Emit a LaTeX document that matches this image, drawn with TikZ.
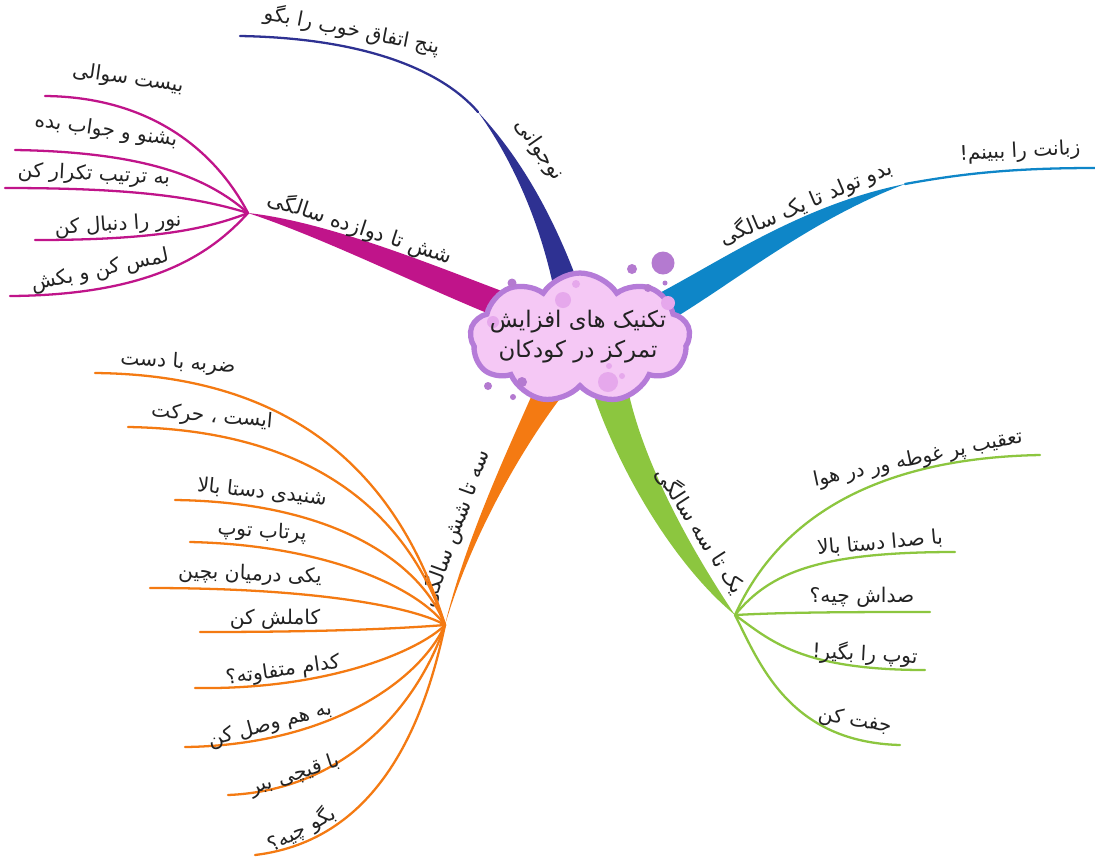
\documentclass[tikz,border=0pt]{standalone}
\usepackage{fontspec}
\usetikzlibrary{shapes.symbols}
\TeXXeTstate=1
\newfontfamily\fa[Script=Arabic]{DejaVu Sans}
\newcommand{\fat}[1]{\beginR #1\endR}
\definecolor{cnavy}{HTML}{2E3192}
\definecolor{cmag}{HTML}{C0148A}
\definecolor{cblue}{HTML}{0E86C8}
\definecolor{cgreen}{HTML}{8CC63F}
\definecolor{corange}{HTML}{F47A12}
\definecolor{cloudf}{HTML}{F5C8F5}
\definecolor{cloudb}{HTML}{B57BD8}
\definecolor{bub}{HTML}{B47AD0}
\definecolor{bubin}{HTML}{E6A8EC}
\definecolor{txt}{HTML}{222222}
\begin{document}
\begin{tikzpicture}[x=0.02cm,y=-0.02cm,
  leaf/.style={font=\fa\fontsize{11.5}{13}\selectfont, text=txt, inner sep=1pt},
  mainlbl/.style={font=\fa\fontsize{12}{14}\selectfont, text=txt, inner sep=1pt},
  twig/.style={line width=1.3pt, line cap=round}]
\useasboundingbox (0,0) rectangle (1095,860);
\fill[white] (0,0) rectangle (1095,860);

% ---------- key coordinates ----------
\coordinate (jn) at (478,112);
\coordinate (jm) at (248,213);
\coordinate (jb) at (905,184);
\coordinate (jg) at (735,615);
\coordinate (jo) at (445,625);

% ---------- thick branches ----------
\fill[cnavy] (556,300) .. controls (545,240) and (520,170) .. (jn)
  .. controls (528,165) and (562,235) .. (584,300) -- cycle;
\fill[cmag] (515,296) .. controls (440,268) and (330,222) .. (jm)
  .. controls (330,240) and (440,296) .. (515,324) -- cycle;
\fill[cblue] (650,298) .. controls (720,262) and (800,205) .. (jb)
  .. controls (810,220) and (735,282) .. (668,322) -- cycle;
\fill[cgreen] (592,390) .. controls (622,480) and (680,570) .. (jg)
  .. controls (698,560) and (645,470) .. (628,390) -- cycle;
\fill[corange] (535,388) .. controls (510,445) and (465,540) .. (jo)
  .. controls (470,540) and (520,450) .. (565,392) -- cycle;

% ---------- navy ----------
\coordinate (en1) at (240,36);
\draw[twig,cnavy] (jn) .. controls (440,68) and (360,38) .. (en1);
\node[leaf, rotate=-11] (tn1) at (352,30) {\fat{پنج اتفاق خوب را بگو}};
\node[mainlbl, rotate=-55] (ln) at (539,150) {\fat{نوجوانی}};

% ---------- magenta ----------
\coordinate (em1) at (45,96);
\coordinate (em2) at (15,150);
\coordinate (em3) at (5,188);
\coordinate (em4) at (35,240);
\coordinate (em5) at (10,296);
\draw[twig,cmag] (jm) .. controls (215,150) and (150,97) .. (em1);
\draw[twig,cmag] (jm) .. controls (205,175) and (140,152) .. (em2);
\draw[twig,cmag] (jm) .. controls (190,195) and (120,188) .. (em3);
\draw[twig,cmag] (jm) .. controls (200,232) and (140,240) .. (em4);
\draw[twig,cmag] (jm) .. controls (210,255) and (150,295) .. (em5);
\node[leaf, rotate=-8] (tm1) at (128,79) {\fat{بیست سوالی}};
\node[leaf, rotate=-8] (tm2) at (106,131) {\fat{بشنو و جواب بده}};
\node[leaf, rotate=-3] (tm3) at (94,175) {\fat{به ترتیب تکرار کن}};
\node[leaf, rotate=4] (tm4) at (118,225) {\fat{نور را دنبال کن}};
\node[leaf, rotate=12] (tm5) at (100,271) {\fat{لمس کن و بکش}};
\node[mainlbl, rotate=-18] (lm) at (360,228) {\fat{شش تا دوازده سالگی}};

% ---------- blue ----------
\coordinate (eb1) at (1095,168);
\draw[twig,cblue] (jb) .. controls (960,174) and (1010,168) .. (eb1);
\node[leaf, rotate=3] (tb1) at (1020,152) {\fat{زبانت را ببینم!}};
\node[mainlbl, rotate=23] (lb) at (806,203) {\fat{بدو تولد تا یک سالگی}};

% ---------- green ----------
\coordinate (eg1) at (1040,455);
\coordinate (eg2) at (955,552);
\coordinate (eg3) at (930,612);
\coordinate (eg4) at (925,670);
\coordinate (eg5) at (900,745);
\draw[twig,cgreen] (jg) .. controls (780,515) and (880,458) .. (eg1);
\draw[twig,cgreen] (jg) .. controls (770,572) and (820,552) .. (eg2);
\draw[twig,cgreen] (jg) .. controls (790,612) and (860,612) .. (eg3);
\draw[twig,cgreen] (jg) .. controls (770,640) and (800,670) .. (eg4);
\draw[twig,cgreen] (jg) .. controls (760,665) and (790,742) .. (eg5);
\node[leaf, rotate=12] (tg1) at (918,459) {\fat{تعقیب پر غوطه ور در هوا}};
\node[leaf, rotate=5] (tg2) at (880,543) {\fat{با صدا دستا بالا}};
\node[leaf] (tg3) at (862,597) {\fat{صداش چیه؟}};
\node[leaf, rotate=-3] (tg4) at (865,654) {\fat{توپ را بگیر!}};
\node[leaf, rotate=-10] (tg5) at (855,721) {\fat{جفت کن}};
\node[mainlbl, rotate=-57] (lg) at (701,530) {\fat{یک تا سه سالگی}};

% ---------- orange ----------
\coordinate (eo1) at (95,373);
\coordinate (eo2) at (128,427);
\coordinate (eo3) at (175,500);
\coordinate (eo4) at (190,542);
\coordinate (eo5) at (150,588);
\coordinate (eo6) at (200,632);
\coordinate (eo7) at (195,688);
\coordinate (eo8) at (185,747);
\coordinate (eo9) at (228,795);
\coordinate (eo10) at (255,855);
\node[mainlbl, rotate=70] (lo) at (455,528) {\fat{سه تا شش سالگی}};
\draw[twig,corange] (jo) .. controls (400,480) and (300,375) .. (eo1);
\draw[twig,corange] (jo) .. controls (410,520) and (320,430) .. (eo2);
\draw[twig,corange] (jo) .. controls (420,560) and (330,502) .. (eo3);
\draw[twig,corange] (jo) .. controls (420,590) and (330,545) .. (eo4);
\draw[twig,corange] (jo) .. controls (420,610) and (330,588) .. (eo5);
\draw[twig,corange] (jo) .. controls (380,630) and (300,632) .. (eo6);
\draw[twig,corange] (jo) .. controls (420,650) and (330,690) .. (eo7);
\draw[twig,corange] (jo) .. controls (420,680) and (330,745) .. (eo8);
\draw[twig,corange] (jo) .. controls (420,700) and (350,790) .. (eo9);
\draw[twig,corange] (jo) .. controls (425,720) and (380,840) .. (eo10);
\node[leaf, rotate=-4] (to1) at (178,363) {\fat{ضربه با دست}};
\node[leaf, rotate=-5] (to2) at (212,417) {\fat{ایست ، حرکت}};
\node[leaf, rotate=-6] (to3) at (262,492) {\fat{شنیدی دستا بالا}};
\node[leaf, rotate=-3] (to4) at (262,532) {\fat{پرتاب توپ}};
\node[leaf, rotate=-2] (to5) at (250,575) {\fat{یکی درمیان بچین}};
\node[leaf] (to6) at (275,619) {\fat{کاملش کن}};
\node[leaf, rotate=8] (to7) at (283,671) {\fat{کدام متفاوته؟}};
\node[leaf, rotate=15] (to8) at (270,725) {\fat{به هم وصل کن}};
\node[leaf, rotate=18] (to9) at (295,775) {\fat{با قیچی ببر}};
\node[leaf, rotate=28] (to10) at (302,829) {\fat{بگو چیه؟}};

% ---------- central cloud ----------
\node[cloud, cloud puffs=9, cloud puff arc=115, aspect=1.75, draw=cloudb, line width=3pt,
  fill=cloudf, minimum width=4.4cm, minimum height=2.6cm, inner sep=0pt] (root) at (580,338) {};
\fill[bubin] (563,300) circle (8) (576,284) circle (4) (608,382) circle (10)
  (622,376) circle (3) (609,366) circle (3) (668,303) circle (7) (493,322) circle (6);
\fill[bub] (512,283) circle (4.5) (632,269) circle (5) (663,263) circle (11.5)
  (648,288) circle (4) (665,283) circle (2.5) (488,386) circle (4) (513,397) circle (3)
  (522,382) circle (5);
\node[font=\fa\fontsize{13}{17}\selectfont, text=txt, align=center] (roottext) at (578,337)
  {\fat{تکنیک های افزایش}\\\fat{تمرکز در کودکان}};
\end{tikzpicture}
\end{document}
